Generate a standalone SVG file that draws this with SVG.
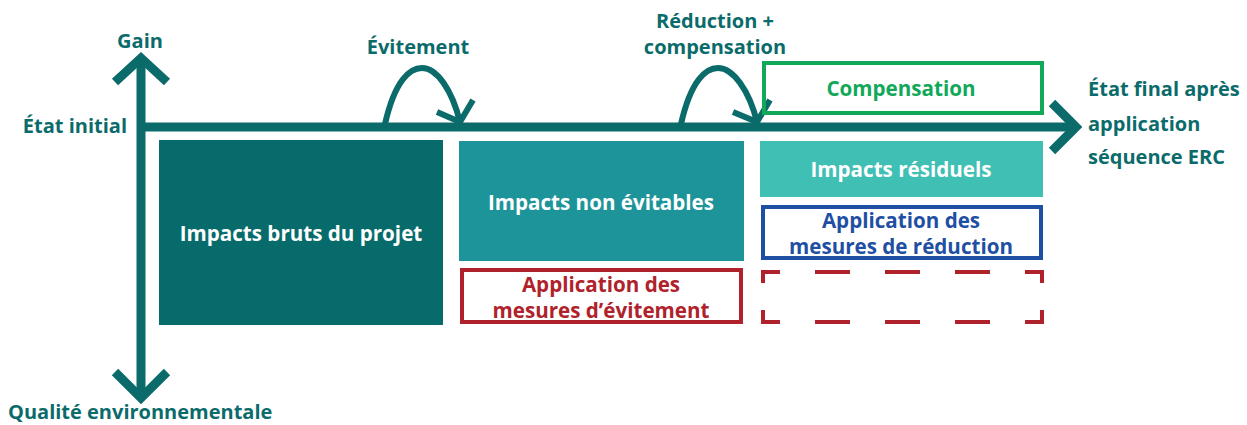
<svg xmlns="http://www.w3.org/2000/svg" width="1247" height="425" viewBox="0 0 1247 425">
<style>
text{font-family:"Open Sans","Liberation Sans",sans-serif;font-weight:700;}
.lab{fill:#0b6b6b;font-size:20px;}
.in{font-size:20.6px;text-anchor:middle;}
.w{fill:#ffffff;}
.ax{stroke:#0b6b6b;stroke-width:9;fill:none;}
.cv{stroke:#0b6b6b;stroke-width:6;fill:none;}
</style>
<rect width="1247" height="425" fill="#ffffff"/>
<g id="connectors">
<line class="ax" x1="141" y1="62" x2="141" y2="396"/>
<polyline class="ax" points="115,82 141,58 167,82"/>
<polyline class="ax" points="115,372 141,398 167,372"/>
<line class="ax" x1="141" y1="127" x2="1074" y2="127"/>
<polyline class="ax" points="1052,103 1076,127 1052,151"/>
<path class="cv" d="M385,124 C395,80 410,68 422,68 C437,68 452,90 460,122"/>
<polyline class="cv" points="437,112 460,122 473,100"/>
<path class="cv" d="M681,124 C691,80 706,68 718,68 C733,68 749,90 757,122"/>
<polyline class="cv" points="733,112 757,122 770,100"/>
</g>
<g id="n-bruts"><rect x="159" y="140" width="284" height="185" fill="#076b6b"/><text class="in w" x="301" y="241">Impacts bruts du projet</text></g>
<g id="n-nonevit"><rect x="459" y="141" width="285" height="120" fill="#1d9499"/><text class="in w" x="601" y="210">Impacts non évitables</text></g>
<g id="n-evit"><rect x="462" y="270" width="279" height="52" fill="none" stroke="#b0222b" stroke-width="4"/><text class="in" fill="#b0222b" x="601" y="292">Application des</text><text class="in" fill="#b0222b" x="601" y="318">mesures d’évitement</text></g>
<g id="n-resid"><rect x="760" y="141" width="283" height="56" fill="#40bfb4"/><text class="in w" x="901" y="177">Impacts résiduels</text></g>
<g id="n-reduc"><rect x="763" y="207" width="278" height="51" fill="none" stroke="#1f4fa3" stroke-width="4"/><text class="in" fill="#1f4fa3" x="901" y="228">Application des</text><text class="in" fill="#1f4fa3" x="901" y="254">mesures de réduction</text></g>
<g id="n-dash" fill="none" stroke="#b0222b" stroke-width="4">
<path d="M780,272 H763 V283 M763,310 V322 H780 M1025,272 H1042 V283 M1042,310 V322 H1025"/>
<path d="M815,272 H850 M885,272 H920 M955,272 H990 M815,322 H850 M885,322 H920 M955,322 H990"/>
</g>
<g id="n-comp"><rect x="764" y="63" width="278" height="50" fill="none" stroke="#12a85a" stroke-width="4"/><text class="in" fill="#12a85a" x="901" y="96">Compensation</text></g>
<g id="labels">
<text class="lab" x="140" y="48" text-anchor="middle">Gain</text>
<text class="lab" x="127" y="133" text-anchor="end">État initial</text>
<text class="lab" x="418" y="54" text-anchor="middle">Évitement</text>
<text class="lab" x="715" y="28" text-anchor="middle">Réduction +</text>
<text class="lab" x="715" y="54" text-anchor="middle">compensation</text>
<text class="lab" x="1088" y="96">État final après</text>
<text class="lab" x="1088" y="131">application</text>
<text class="lab" x="1088" y="164">séquence ERC</text>
<text class="lab" x="8" y="419">Qualité environnementale</text>
</g>
</svg>
